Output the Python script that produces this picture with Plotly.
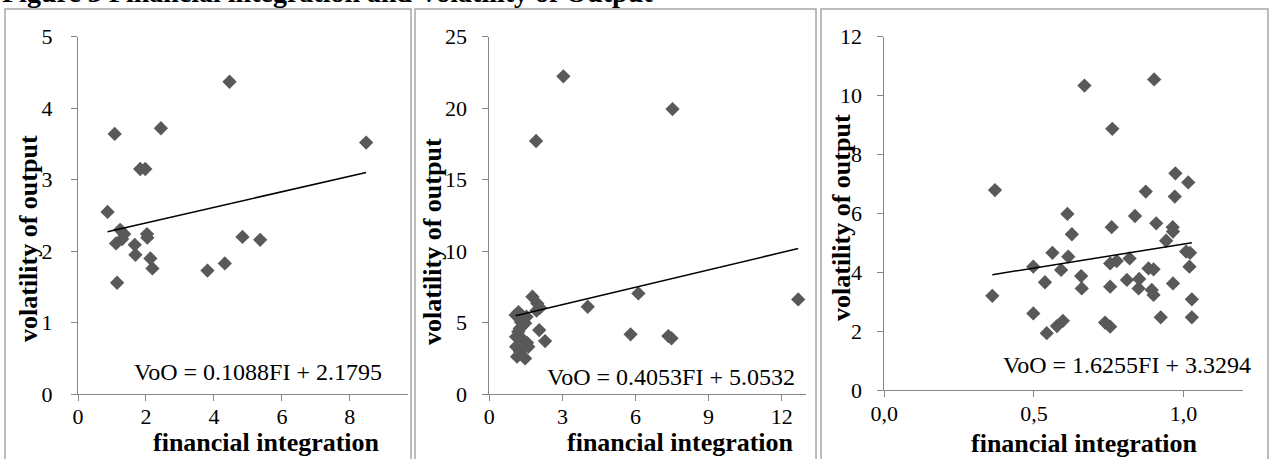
import plotly.graph_objects as go

W, H = 1274, 459

# ---- data: financial integration (FI) vs volatility of output (VoO) ----
fi_a = [0.87, 1.08, 1.83, 1.98, 2.44, 4.46, 8.48, 1.24, 1.36, 1.12, 1.30,
        2.03, 2.04, 1.67, 1.69, 2.13, 2.19, 1.15, 3.81, 4.32, 4.84, 5.36]
voo_a = [2.55, 3.64, 3.15, 3.15, 3.72, 4.37, 3.52, 2.30, 2.24, 2.11, 2.17,
         2.24, 2.19, 2.09, 1.95, 1.90, 1.76, 1.56, 1.73, 1.83, 2.20, 2.16]

fi_b = [1.92, 3.04, 7.52, 12.68, 6.12, 4.04, 5.80, 7.35, 7.48, 1.77, 1.97,
        2.08, 1.94, 1.08, 1.20, 1.35, 1.53, 1.47, 1.30, 1.19, 1.10, 1.40,
        1.25, 1.10, 1.26, 1.14, 1.47, 1.60, 1.55, 2.05, 2.29]
voo_b = [17.71, 22.23, 19.94, 6.63, 7.05, 6.12, 4.19, 4.07, 3.91, 6.82, 6.35,
         6.05, 5.85, 5.54, 5.75, 5.45, 5.42, 4.96, 5.05, 4.37, 4.02, 3.79,
         4.60, 3.32, 2.97, 2.63, 2.51, 3.32, 3.60, 4.49, 3.72]

fi_c = [0.370, 0.669, 0.902, 0.762, 0.973, 1.016, 0.874, 0.971, 0.612, 0.838,
        0.909, 0.760, 0.964, 0.965, 0.627, 0.942, 0.562, 0.615, 0.498, 0.591,
        0.658, 0.660, 0.537, 0.755, 0.777, 0.820, 0.755, 0.811, 0.852, 0.850,
        0.883, 0.900, 0.894, 0.900, 0.965, 1.009, 1.022, 1.020, 1.028, 1.028,
        0.924, 0.498, 0.543, 0.577, 0.597, 0.738, 0.755, 0.361]
voo_c = [6.79, 10.34, 10.55, 8.87, 7.36, 7.05, 6.74, 6.57, 5.98, 5.91,
         5.66, 5.53, 5.53, 5.38, 5.29, 5.07, 4.66, 4.53, 4.19, 4.08,
         3.87, 3.45, 3.66, 4.30, 4.38, 4.47, 3.51, 3.74, 3.77, 3.45,
         4.13, 4.10, 3.40, 3.23, 3.62, 4.70, 4.66, 4.19, 3.08, 2.47,
         2.47, 2.60, 1.93, 2.17, 2.35, 2.29, 2.15, 3.20]

# linear trend coefficients (slope, intercept) as printed on each panel
slopes = [0.1088, 0.4053, 1.6255]
intercepts = [2.1795, 5.0532, 3.3294]
equations = ["VoO = 0.1088FI + 2.1795", "VoO = 0.4053FI + 5.0532",
             "VoO = 1.6255FI + 3.3294"]

x_ticks = [[0, 2, 4, 6, 8], [0, 3, 6, 9, 12], [0.0, 0.5, 1.0]]
x_ticktext = [["0", "2", "4", "6", "8"], ["0", "3", "6", "9", "12"],
              ["0,0", "0,5", "1,0"]]
y_ticks = [[0, 1, 2, 3, 4, 5], [0, 5, 10, 15, 20, 25],
           [0, 2, 4, 6, 8, 10, 12]]
x_ranges = [[0, 9.72], [0, 13.0], [0, 1.2]]
y_ranges = [[0, 5], [0, 25], [0, 12]]

title_text = "Figure 3 Financial integration and Volatility of Output"
x_title = "financial integration"
y_title = "volatility of output"

# ---- layout geometry (pixels from the top-left corner) ----
def fx(px):
    return px / W

def fy(py):
    return (H - py) / H

plot_x = [(78, 408.3), (489.3, 806), (884.3, 1243.3)]
plot_y = [(36.7, 394.3), (36.7, 394.3), (36.7, 390)]
frames = [(5, 411), (415, 816), (821, 1268)]
frame_top = 9
ylab_x = [28, 432, 841]
ylab_y = [239, 242, 218]
xlab = [(266, 442), (680, 442), (1084, 443)]
eq_pos = [(258, 372), (671, 377), (1127, 365)]
ytick_standoff = [14, 11, 11]
xtick_standoff = [-4, -4, -2]

MARK = "#595959"
AXIS = "#868686"
SERIF = "Liberation Serif, Times New Roman, serif"

fig = go.Figure()
datasets = [(fi_a, voo_a), (fi_b, voo_b), (fi_c, voo_c)]
layout_axes = {}
annotations = []
shapes = []

for i, (xs, ys) in enumerate(datasets):
    sfx = "" if i == 0 else str(i + 1)
    xa, ya = "x" + sfx, "y" + sfx
    fig.add_trace(go.Scatter(
        x=xs, y=ys, mode="markers", xaxis=xa, yaxis=ya,
        marker=dict(symbol="diamond", size=11, color=MARK,
                    line=dict(width=0)),
        showlegend=False, hoverinfo="x+y"))
    x0, x1 = min(xs), max(xs)
    fig.add_trace(go.Scatter(
        x=[x0, x1],
        y=[slopes[i] * x0 + intercepts[i], slopes[i] * x1 + intercepts[i]],
        mode="lines", xaxis=xa, yaxis=ya,
        line=dict(color="black", width=1.5),
        showlegend=False, hoverinfo="skip"))

    layout_axes["xaxis" + sfx] = dict(
        domain=[fx(plot_x[i][0]), fx(plot_x[i][1])],
        anchor=ya, range=x_ranges[i], tickmode="array",
        tickvals=x_ticks[i], ticktext=x_ticktext[i],
        showgrid=False, zeroline=False, showline=True, automargin=False,
        linecolor=AXIS, linewidth=1, ticks="outside", ticklen=6,
        tickcolor=AXIS, ticklabelstandoff=xtick_standoff[i],
        tickfont=dict(family=SERIF, size=22, color="black"),
        fixedrange=True)
    layout_axes["yaxis" + sfx] = dict(
        domain=[fy(plot_y[i][1]), fy(plot_y[i][0])],
        anchor=xa, range=y_ranges[i], tickmode="array",
        tickvals=y_ticks[i], showgrid=False, zeroline=False,
        showline=True, automargin=False, linecolor=AXIS, linewidth=1,
        ticks="outside", ticklen=6, tickcolor=AXIS,
        ticklabelstandoff=ytick_standoff[i],
        tickfont=dict(family=SERIF, size=22, color="black"),
        fixedrange=True)

    # panel frame
    shapes.append(dict(type="rect", xref="paper", yref="paper",
                       x0=fx(frames[i][0]), x1=fx(frames[i][1]),
                       y0=fy(H + 20), y1=fy(frame_top),
                       line=dict(color="#a6a6a6", width=1.5),
                       fillcolor="rgba(0,0,0,0)", layer="below"))

    annotations.append(dict(
        text=equations[i], xref="paper", yref="paper",
        x=fx(eq_pos[i][0]), y=fy(eq_pos[i][1]),
        xanchor="center", yanchor="middle", showarrow=False,
        font=dict(family=SERIF, size=24, color="black")))
    annotations.append(dict(
        text="<b>" + x_title + "</b>", xref="paper", yref="paper",
        x=fx(xlab[i][0]), y=fy(xlab[i][1]),
        xanchor="center", yanchor="middle", showarrow=False,
        font=dict(family=SERIF, size=26, color="black")))
    annotations.append(dict(
        text="<b>" + y_title + "</b>", xref="paper", yref="paper",
        x=fx(ylab_x[i]), y=fy(ylab_y[i]), textangle=-90,
        xanchor="center", yanchor="middle", showarrow=False,
        font=dict(family=SERIF, size=26, color="black")))

# figure caption, clipped by the top edge of the page
annotations.append(dict(
    text="<b>" + title_text + "</b>", xref="paper", yref="paper",
    x=0, y=fy(10), xanchor="left", yanchor="bottom", showarrow=False,
    font=dict(family=SERIF, size=28, color="black")))

fig.update_layout(
    template="none",
    width=W, height=H,
    margin=dict(l=0, r=0, t=0, b=0, pad=0, autoexpand=False),
    paper_bgcolor="white", plot_bgcolor="white",
    annotations=annotations, shapes=shapes,
    **layout_axes)

fig.write_html("out.html", config={"displayModeBar": False})
